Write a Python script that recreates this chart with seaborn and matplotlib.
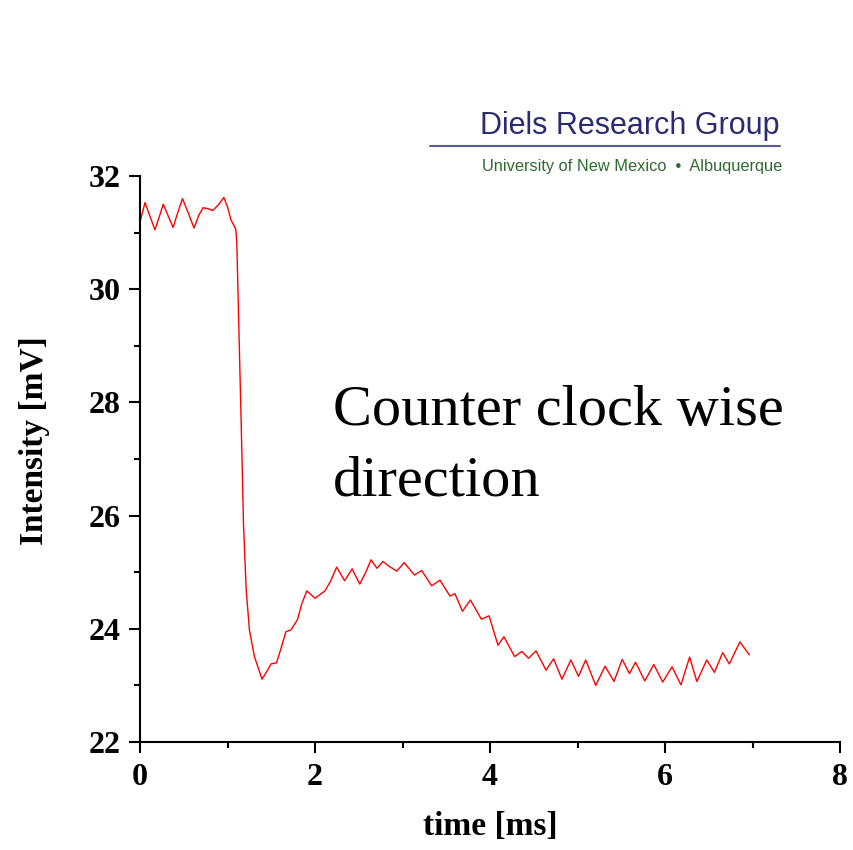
"""
ccw_intensity.py

Intensity trace of the counter clock wise direction,
with the group banner drawn above the axes.
"""

import matplotlib

matplotlib.use("Agg")
import matplotlib.pyplot as plt
import pandas as pd
import seaborn as sns

# Figure settings
FIG_DPI = 100
TICK_FONTSIZE = 23
LABEL_FONTSIZE = 24
NOTE_FONTSIZE = 42
LINE_COLOR = "#ff0000"

# Data
time_ms = [
    0.0, 0.057, 0.11, 0.17, 0.22, 0.265, 0.32, 0.378, 0.43, 0.485,
    0.55, 0.617, 0.67, 0.72, 0.78, 0.833, 0.90, 0.958, 1.00, 1.04,
    1.075, 1.095, 1.106, 1.128, 1.156, 1.182, 1.213, 1.25, 1.307, 1.394,
    1.45, 1.497, 1.56, 1.61, 1.667, 1.724, 1.799, 1.85, 1.906, 2.0,
    2.114, 2.18, 2.247, 2.338, 2.424, 2.511, 2.58, 2.64, 2.708, 2.776,
    2.85, 2.935, 3.019, 3.136, 3.219, 3.333, 3.428, 3.542, 3.599, 3.685,
    3.776, 3.901, 3.989, 4.091, 4.159, 4.281, 4.364, 4.44, 4.526, 4.64,
    4.727, 4.822, 4.924, 5.011, 5.094, 5.208, 5.315, 5.417, 5.511, 5.594,
    5.663, 5.769, 5.872, 5.974, 6.08, 6.182, 6.281, 6.364, 6.477, 6.565,
    6.659, 6.735, 6.856, 6.963,
]
intensity_mv = [
    31.19, 31.53, 31.30, 31.05, 31.28, 31.50, 31.30, 31.09, 31.35, 31.60,
    31.35, 31.08, 31.30, 31.44, 31.42, 31.39, 31.50, 31.62, 31.45, 31.22,
    31.12, 31.05, 30.81, 29.40, 27.63, 25.86, 24.69, 23.98, 23.51, 23.11,
    23.25, 23.38, 23.40, 23.65, 23.95, 23.98, 24.16, 24.45, 24.67, 24.54,
    24.67, 24.85, 25.09, 24.85, 25.06, 24.79, 25.00, 25.22, 25.07, 25.19,
    25.10, 25.02, 25.17, 24.95, 25.03, 24.76, 24.86, 24.58, 24.62, 24.31,
    24.51, 24.17, 24.23, 23.71, 23.86, 23.51, 23.60, 23.48, 23.61, 23.27,
    23.47, 23.11, 23.45, 23.16, 23.45, 23.00, 23.34, 23.07, 23.46, 23.21,
    23.41, 23.08, 23.37, 23.06, 23.33, 23.01, 23.50, 23.07, 23.45, 23.23,
    23.58, 23.38, 23.77, 23.54,
]
x_ticks = [0, 2, 4, 6, 8]
y_ticks = [22, 24, 26, 28, 30, 32]
note_lines = ["Counter clock wise", "direction"]


def main():
    sns.set_style("ticks")
    plt.rcParams["font.family"] = ["Liberation Serif", "DejaVu Serif"]
    for key in ["text.color", "axes.labelcolor", "xtick.color", "ytick.color", "axes.edgecolor"]:
        plt.rcParams[key] = "black"

    df = pd.DataFrame({"time": time_ms, "intensity": intensity_mv})

    fig = plt.figure(figsize=(8.54, 8.5), dpi=FIG_DPI)
    ax = fig.add_axes([0.164, 0.127, 0.8196, 0.666])

    sns.lineplot(
        data=df, x="time", y="intensity", sort=False, estimator=None,
        color=LINE_COLOR, linewidth=1.0, ax=ax,
    )
    for line in ax.get_lines():
        line.set_solid_joinstyle("round")

    # Axes styling
    ax.set_xlim(0, 8)
    ax.set_ylim(22, 32)
    ax.set_xticks(x_ticks)
    ax.set_yticks(y_ticks)
    ax.set_xticks([1, 3, 5, 7], minor=True)
    ax.set_yticks([23, 25, 27, 29, 31], minor=True)
    ax.set_xticklabels([str(t) for t in x_ticks], fontsize=TICK_FONTSIZE, fontweight="bold")
    ax.set_yticklabels([str(t) for t in y_ticks], fontsize=TICK_FONTSIZE, fontweight="bold")
    ax.tick_params(which="major", direction="out", length=8, width=1.5)
    ax.tick_params(which="minor", direction="out", length=4.5, width=1.5)
    ax.tick_params(axis="x", which="major", pad=7)
    ax.tick_params(axis="y", which="major", pad=6)
    sns.despine(ax=ax)
    for side in ["left", "bottom"]:
        ax.spines[side].set_linewidth(1.5)

    ax.set_xlabel("time [ms]", fontsize=LABEL_FONTSIZE, fontweight="bold")
    ax.set_ylabel("Intensity [mV]", fontsize=LABEL_FONTSIZE, fontweight="bold")
    ax.xaxis.set_label_coords(0.5, -0.122)
    ax.yaxis.set_label_coords(-0.128, 0.532)

    # Annotation inside the plot, one text per line
    for line, y_base in zip(note_lines, [27.60, 26.36]):
        ax.text(2.2, y_base, line, fontsize=NOTE_FONTSIZE, ha="left", va="baseline")

    # Group banner above the axes
    fig.text(
        780 / 854, 1 - 134 / 850, "Diels Research Group",
        family="Liberation Sans", fontsize=22, color="#2b2b70",
        ha="right", va="baseline",
    )
    fig.add_artist(
        plt.Line2D([430 / 854, 780 / 854], [1 - 146 / 850, 1 - 146 / 850],
                   color="#5c5c90", linewidth=1.5)
    )
    fig.text(
        782 / 854, 1 - 171 / 850, "University of New Mexico  \u2022  Albuquerque",
        family="Liberation Sans", fontsize=11.8, color="#2f6a2f",
        ha="right", va="baseline",
    )

    fig.savefig("out.png", dpi=FIG_DPI)


if __name__ == "__main__":
    main()
